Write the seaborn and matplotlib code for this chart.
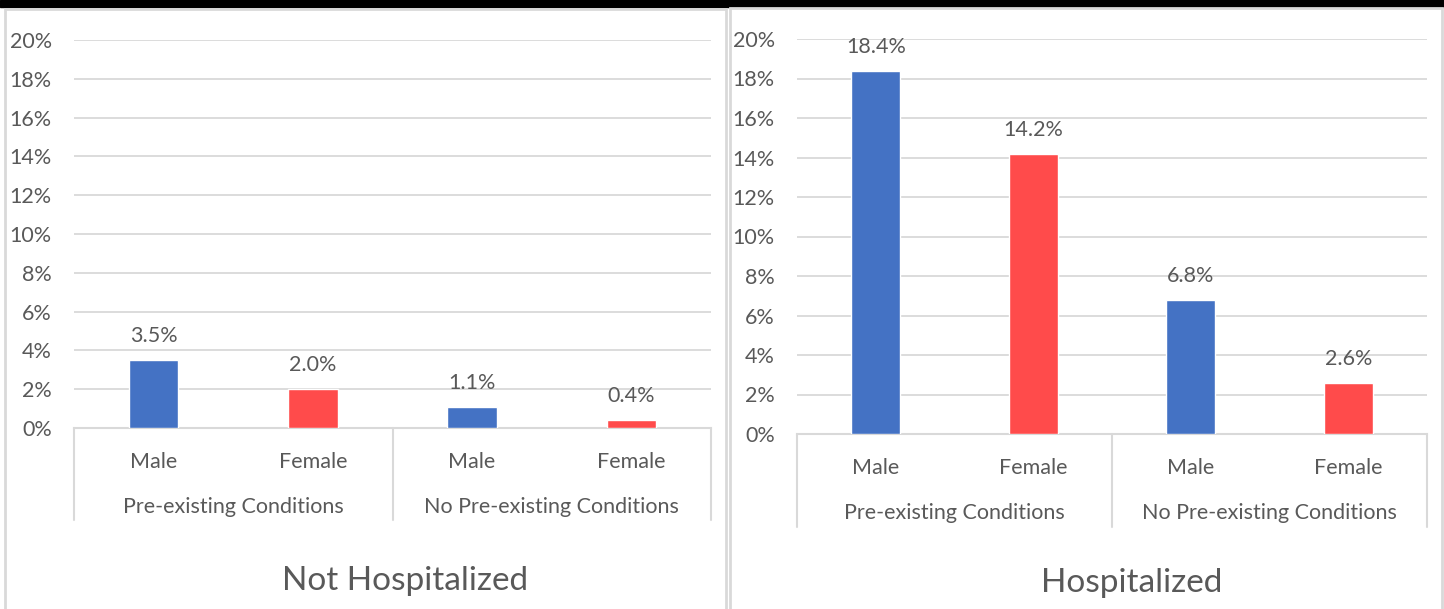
import pandas as pd
import seaborn as sns
import matplotlib.pyplot as plt
from matplotlib.ticker import PercentFormatter
from matplotlib.lines import Line2D
from matplotlib.patches import Rectangle

groups = ["Pre-existing Conditions", "Pre-existing Conditions",
          "No Pre-existing Conditions", "No Pre-existing Conditions"]
sexes = ["Male", "Female", "Male", "Female"]
not_hosp = [0.035, 0.020, 0.011, 0.004]
hosp = [0.184, 0.142, 0.068, 0.026]
panel_titles = ["Not Hospitalized", "Hospitalized"]

colors = {"Male": "#4472C4", "Female": "#FF4B4B"}
text_c = "#595959"
line_c = "#D9D9D9"
fs = 15.5

sns.set_style("white")
plt.rcParams["font.family"] = ["Lato", "DejaVu Sans"]

W, H = 1444, 609
fig = plt.figure(figsize=(W / 100, H / 100), dpi=100)

# black strip on top and panel frames
fig.patches.append(Rectangle((0, 1 - 7 / H), 1, 7 / H, transform=fig.transFigure,
                             color="black", zorder=0))
for x0, x1, y0 in [(5, 726, 9), (730, 1442, 8)]:
    fig.patches.append(Rectangle((x0 / W, -0.05), (x1 - x0) / W, 1.05 - y0 / H,
                                 transform=fig.transFigure, fill=False,
                                 edgecolor=line_c, linewidth=2, zorder=0))

# axes boxes in pixels: left, right, top(20%), bottom(0%), sep bottom, group label y, title x, title y
boxes = [(74, 711, 40, 428, 520, 507, 405, 581),
         (797, 1427, 39, 434, 527, 513, 1132, 583)]

for vals, title, (l, r, t, b, sb, gy, tx, ty) in zip([not_hosp, hosp], panel_titles, boxes):
    ax = fig.add_axes([l / W, 1 - b / H, (r - l) / W, (b - t) / H])
    df = pd.DataFrame({"slot": [f"{g}|{s}" for g, s in zip(groups, sexes)],
                       "sex": sexes, "value": vals})
    sns.barplot(data=df, x="slot", y="value", hue="sex", palette=colors,
                dodge=False, width=0.31, saturation=1, legend=False, ax=ax, zorder=3)
    ax.set_ylim(0, 0.20)
    ax.set_yticks([i / 100 for i in range(0, 21, 2)])
    ax.yaxis.set_major_formatter(PercentFormatter(1.0, decimals=0))
    ax.set_xlim(-0.5, 3.5)
    ax.grid(axis="y", color=line_c, linewidth=1.3, zorder=0)
    for s in ["top", "right", "left"]:
        ax.spines[s].set_visible(False)
    ax.spines["bottom"].set_color(line_c)
    ax.spines["bottom"].set_linewidth(1.5)
    ax.tick_params(axis="both", length=0, labelsize=fs, labelcolor=text_c)
    ax.tick_params(axis="y", pad=16)
    ax.tick_params(axis="x", pad=17)
    ax.set_xticks(range(4))
    ax.set_xticklabels(sexes)
    ax.set_xlabel("")
    ax.set_ylabel("")

    for c in ax.containers:
        ax.bar_label(c, labels=[f"{v * 100:.1f}%" for v in c.datavalues],
                     padding=10, fontsize=fs, color=text_c)

    # group separators and group labels
    hpx = b - t
    depth = (sb - b) / hpx
    for xs in [-0.5, 1.5, 3.5]:
        ax.add_line(Line2D([xs, xs], [0, -depth], transform=ax.get_xaxis_transform(),
                           color=line_c, linewidth=1.5, clip_on=False))
    for xc, g in [(0.5, groups[0]), (2.5, groups[2])]:
        ax.text(xc, -(gy - b) / hpx, g, transform=ax.get_xaxis_transform(),
                ha="center", va="center", fontsize=fs, color=text_c)

    fig.text(tx / W, 1 - ty / H, title, ha="center", va="center",
             fontsize=24, color=text_c)

fig.savefig("out.png", dpi=100)
